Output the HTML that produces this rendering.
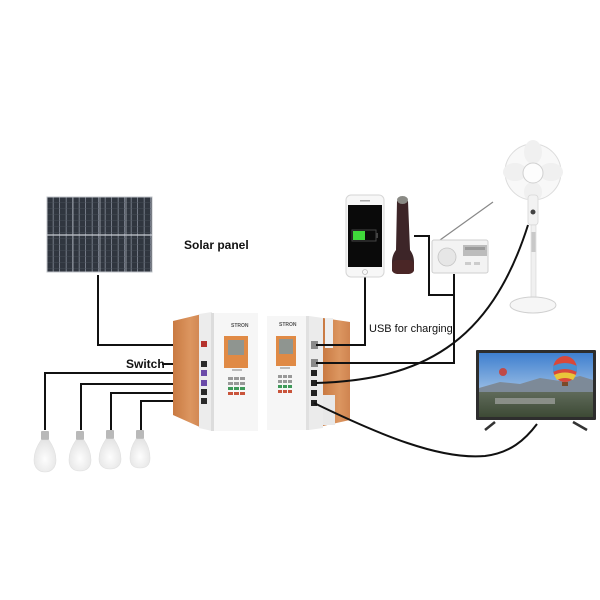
<!DOCTYPE html>
<html><head><meta charset="utf-8"><style>
html,body{margin:0;padding:0;background:#fff;}
svg{display:block;}
text{font-family:"Liberation Sans",sans-serif;}
</style></head><body>
<svg width="600" height="600" viewBox="0 0 600 600" xmlns="http://www.w3.org/2000/svg">
<defs>
<pattern id="cells" x="47" y="197" width="6.5" height="6" patternUnits="userSpaceOnUse">
<rect width="6.5" height="6" fill="#30363f"/>
<rect x="5.8" width="0.7" height="6" fill="#9098a4"/>
<rect y="5.6" width="6.5" height="0.4" fill="#4a515c"/>
</pattern>
<linearGradient id="org" x1="0" x2="1"><stop offset="0" stop-color="#c97a42"/><stop offset="0.6" stop-color="#dc9660"/><stop offset="1" stop-color="#cf8450"/></linearGradient>
<linearGradient id="sky" x1="0" y1="0" x2="0" y2="1"><stop offset="0" stop-color="#3f7fcf"/><stop offset="0.7" stop-color="#a9c8e8"/><stop offset="1" stop-color="#d8e4ef"/></linearGradient>
<linearGradient id="ground" x1="0" y1="0" x2="0" y2="1"><stop offset="0" stop-color="#5f6a5a"/><stop offset="1" stop-color="#3d4a35"/></linearGradient>
<radialGradient id="bulb" cx="0.5" cy="0.6" r="0.6"><stop offset="0" stop-color="#fdfdfd"/><stop offset="1" stop-color="#e4e4e4"/></radialGradient>
</defs>

<!-- Solar panel -->
<rect x="47" y="197" width="105" height="75" fill="url(#cells)" stroke="#bfc3c8" stroke-width="1"/>
<line x1="47" y1="235" x2="152" y2="235" stroke="#c8ccd2" stroke-width="1.2"/>
<line x1="73" y1="197" x2="73" y2="272" stroke="#aab0b8" stroke-width="0.8"/>
<line x1="100" y1="197" x2="100" y2="272" stroke="#aab0b8" stroke-width="0.8"/>
<line x1="126" y1="197" x2="126" y2="272" stroke="#aab0b8" stroke-width="0.8"/>
<text x="184" y="249" font-size="12" font-weight="bold" fill="#111">Solar panel</text>

<!-- Wires left -->
<g fill="none" stroke="#111" stroke-width="2">
<path d="M98,275 V345 H205"/>
<path d="M162,364 H205"/>
<path d="M45,430 V373 H205"/>
<path d="M81,430 V384 H205"/>
<path d="M111,430 V393 H205"/>
<path d="M141,430 V401 H205"/>
</g>
<text x="126" y="368" font-size="12" font-weight="bold" fill="#111">Switch</text>

<!-- Bulbs -->
<g>
<g transform="translate(45,0)">
<rect x="-4" y="431" width="8" height="9" rx="1" fill="#b9b9b9"/>
<path d="M-4,440 C-8,446 -11,452 -11,460 C-11,468 -6,472 0,472 C6,472 11,468 11,460 C11,452 8,446 4,440 Z" fill="url(#bulb)" stroke="#e0e0e0" stroke-width="0.6"/>
</g>
<g transform="translate(80,0)">
<rect x="-4" y="431" width="8" height="9" rx="1" fill="#b9b9b9"/>
<path d="M-4,440 C-8,446 -11,452 -11,460 C-11,468 -6,471 0,471 C6,471 11,468 11,460 C11,452 8,446 4,440 Z" fill="url(#bulb)" stroke="#e0e0e0" stroke-width="0.6"/>
</g>
<g transform="translate(110,0)">
<rect x="-4" y="430" width="8" height="9" rx="1" fill="#b9b9b9"/>
<path d="M-4,439 C-8,445 -11,451 -11,459 C-11,466 -6,469 0,469 C6,469 11,466 11,459 C11,451 8,445 4,439 Z" fill="url(#bulb)" stroke="#e0e0e0" stroke-width="0.6"/>
</g>
<g transform="translate(140,0)">
<rect x="-4" y="430" width="8" height="9" rx="1" fill="#b9b9b9"/>
<path d="M-4,439 C-8,445 -10,451 -10,458 C-10,465 -6,468 0,468 C6,468 10,465 10,458 C10,451 8,445 4,439 Z" fill="url(#bulb)" stroke="#e0e0e0" stroke-width="0.6"/>
</g>
</g>

<!-- Left box -->
<polygon points="173,321 202,314 202,428 173,415" fill="url(#org)"/>
<polygon points="199,314 212,312 212,431 199,428" fill="#ececec"/>
<rect x="211" y="313" width="47" height="118" fill="#f6f6f6"/>
<rect x="211" y="313" width="3" height="118" fill="#dcdcdc"/>
<rect x="201" y="341" width="6" height="6" fill="#b5322d"/>
<rect x="201" y="361" width="6" height="6" fill="#2a2a2a"/>
<rect x="201" y="370" width="6" height="6" fill="#6a4aa8"/>
<rect x="201" y="380" width="6" height="6" fill="#6a4aa8"/>
<rect x="201" y="389" width="6" height="6" fill="#2a2a2a"/>
<rect x="201" y="398" width="6" height="6" fill="#2a2a2a"/>
<text x="231" y="327" font-size="5" font-weight="bold" fill="#555">STRON</text>
<rect x="224" y="336" width="24" height="32" fill="#e08a45"/>
<rect x="228" y="340" width="16" height="15" fill="#8f9590"/>
<rect x="232" y="369" width="10" height="2" fill="#bbb"/>
<g fill="#999">
<rect x="228" y="377" width="5" height="3"/><rect x="234" y="377" width="5" height="3"/><rect x="240" y="377" width="5" height="3"/>
<rect x="228" y="382" width="5" height="3"/><rect x="234" y="382" width="5" height="3"/><rect x="240" y="382" width="5" height="3"/>
</g>
<g fill="#3f9a5a"><rect x="228" y="387" width="5" height="3"/><rect x="234" y="387" width="5" height="3"/><rect x="240" y="387" width="5" height="3"/></g>
<g fill="#c9543b"><rect x="228" y="392" width="5" height="3"/><rect x="234" y="392" width="5" height="3"/><rect x="240" y="392" width="5" height="3"/></g>

<!-- Right box -->
<rect x="267" y="316" width="42" height="114" fill="#f6f6f6"/>
<rect x="306" y="316" width="3" height="114" fill="#e0e0e0"/>
<polygon points="309,316 323,318 323,428 309,430" fill="#ebebeb"/>
<polygon points="323,318 350,322 350,420 323,426" fill="url(#org)"/>
<rect x="325" y="318" width="8" height="30" fill="#eeeeee"/>
<rect x="323" y="395" width="12" height="30" fill="#e8e8e8"/>
<text x="279" y="326" font-size="5" font-weight="bold" fill="#555">STRON</text>
<rect x="276" y="336" width="20" height="30" fill="#e08a45"/>
<rect x="279" y="339" width="14" height="15" fill="#8f9590"/>
<rect x="280" y="367" width="10" height="2" fill="#bbb"/>
<g fill="#999">
<rect x="278" y="375" width="4" height="3"/><rect x="283" y="375" width="4" height="3"/><rect x="288" y="375" width="4" height="3"/>
<rect x="278" y="380" width="4" height="3"/><rect x="283" y="380" width="4" height="3"/><rect x="288" y="380" width="4" height="3"/>
</g>
<g fill="#3f9a5a"><rect x="278" y="385" width="4" height="3"/><rect x="283" y="385" width="4" height="3"/><rect x="288" y="385" width="4" height="3"/></g>
<g fill="#c9543b"><rect x="278" y="390" width="4" height="3"/><rect x="283" y="390" width="4" height="3"/><rect x="288" y="390" width="4" height="3"/></g>
<rect x="311" y="341" width="7" height="8" fill="#8a8a8a"/>
<rect x="311" y="359" width="7" height="8" fill="#8a8a8a"/>
<rect x="311" y="370" width="6" height="6" fill="#222"/>
<rect x="311" y="380" width="6" height="6" fill="#222"/>
<rect x="311" y="390" width="6" height="6" fill="#222"/>
<rect x="311" y="400" width="6" height="6" fill="#222"/>

<!-- Right wires -->
<g fill="none" stroke="#111" stroke-width="2">
<path d="M316,345 H365 V277"/>
<path d="M316,363 H454 V274"/>
<path d="M414,236 H429 V295 H454"/>
<path d="M316,383 C420,380 490,345 528,225"/>
<path d="M314,403 C380,435 440,460 485,456 C510,453 525,440 537,424"/>
</g>
<text x="369" y="332" font-size="11" fill="#111">USB for charging</text>

<!-- Phone -->
<rect x="346" y="195" width="38" height="82" rx="5" fill="#f7f7f7" stroke="#d6d6d6" stroke-width="1"/>
<rect x="348" y="205" width="34" height="62" fill="#0a0a0a"/>
<rect x="360" y="200" width="10" height="1.5" fill="#aaa"/>
<circle cx="365" cy="272" r="2.5" fill="none" stroke="#bbb" stroke-width="0.8"/>
<rect x="352" y="230" width="24" height="11" fill="none" stroke="#444" stroke-width="1"/>
<rect x="353" y="231" width="12" height="9" fill="#3fd83a"/>
<rect x="376" y="233" width="2" height="5" fill="#444"/>

<!-- Flashlight -->
<path d="M397,201 L408,201 L410,250 C413,254 414,258 414,262 L414,270 C414,273 410,274 403,274 C396,274 392,273 392,270 L392,262 C392,258 393,254 396,250 Z" fill="#3d2528"/>
<ellipse cx="402.5" cy="200" rx="5.5" ry="4" fill="#8a8a85"/>
<rect x="392" y="260" width="22" height="14" rx="5" fill="#4a2626"/>

<!-- Radio -->
<line x1="440" y1="240" x2="493" y2="202" stroke="#888" stroke-width="1.2"/>
<rect x="432" y="240" width="56" height="33" rx="2" fill="#f3f3f3" stroke="#cfcfcf" stroke-width="1"/>
<circle cx="447" cy="257" r="9" fill="#e6e6e6" stroke="#c4c4c4" stroke-width="0.8"/>
<rect x="463" y="245" width="24" height="11" fill="#bcbcbc"/>
<rect x="465" y="247" width="20" height="3" fill="#9a9a9a"/>
<rect x="465" y="262" width="6" height="3" fill="#ccc"/><rect x="474" y="262" width="6" height="3" fill="#ccc"/>

<!-- Fan -->
<circle cx="533" cy="172" r="28" fill="#f8f8f8" stroke="#dcdcdc" stroke-width="1"/>
<g fill="#f0f0f0">
<ellipse cx="533" cy="152" rx="9" ry="12"/>
<ellipse cx="551" cy="172" rx="12" ry="9"/>
<ellipse cx="533" cy="192" rx="9" ry="10"/>
<ellipse cx="515" cy="172" rx="12" ry="9"/>
</g>
<circle cx="533" cy="173" r="10" fill="#fdfdfd" stroke="#d0d0d0" stroke-width="1"/>
<rect x="528" y="195" width="10" height="30" rx="3" fill="#f2f2f2" stroke="#d6d6d6" stroke-width="0.8"/>
<circle cx="533" cy="212" r="2.5" fill="#444"/>
<rect x="531" y="225" width="5" height="78" fill="#f0f0f0" stroke="#d2d2d2" stroke-width="0.6"/>
<rect x="531.5" y="232" width="4" height="20" fill="#c8c8c8"/>
<ellipse cx="533" cy="305" rx="23" ry="8" fill="#f6f6f6" stroke="#d0d0d0" stroke-width="1"/>

<!-- TV -->
<rect x="476" y="350" width="120" height="70" rx="1" fill="#2d2d2d"/>
<rect x="479" y="353" width="114" height="64" fill="url(#sky)"/>
<path d="M479,388 L500,382 L520,384 L540,378 L560,381 L580,376 L593,380 L593,395 L479,395 Z" fill="#7d8a98"/>
<rect x="479" y="392" width="114" height="25" fill="url(#ground)"/>
<rect x="495" y="398" width="60" height="6" fill="#8a8f88"/>
<ellipse cx="565" cy="369" rx="12" ry="13" fill="#d8483a"/>
<path d="M553,366 Q565,360 577,366 L577,372 Q565,366 553,372 Z" fill="#4a8fd0"/>
<path d="M554,375 Q565,370 576,375 L573,380 Q565,376 557,380 Z" fill="#e9c63a"/>
<rect x="562" y="382" width="6" height="4" fill="#7a4a2a"/>
<circle cx="503" cy="372" r="4" fill="#c04a48"/>
<line x1="495" y1="422" x2="485" y2="430" stroke="#333" stroke-width="2.5"/>
<line x1="573" y1="422" x2="587" y2="430" stroke="#333" stroke-width="2.5"/>
</svg>
</body></html>
